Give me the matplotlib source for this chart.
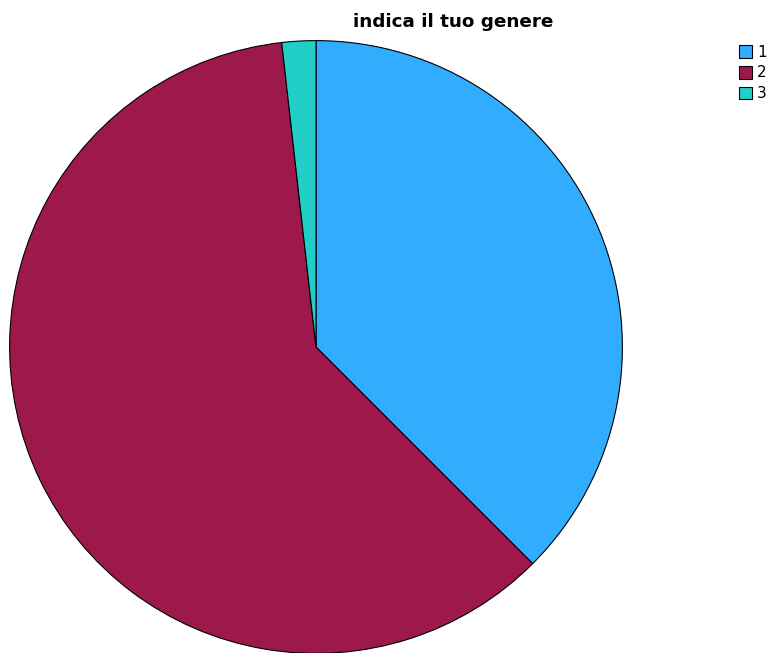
import matplotlib
matplotlib.use("Agg")
from matplotlib import pyplot as plt

# counts per category of "indica il tuo genere"
labels = ["1", "2", "3"]
counts = [21, 34, 1]
colors = ["#31acff", "#9e194b", "#22cfc8"]

fig = plt.figure(figsize=(7.73, 6.53), dpi=100)

# pie centre around (316, 347) px, radius ~307 px
ax = fig.add_axes([(316 - 307) / 773, (306 - 307) / 653, 614 / 773, 614 / 653])
wedges, _ = ax.pie(counts, colors=colors, startangle=90, counterclock=False,
                   radius=1, wedgeprops=dict(edgecolor="black", linewidth=0.8))
ax.set_xlim(-1.002, 1.002)
ax.set_ylim(-1.002, 1.002)
ax.set_aspect("equal")
ax.axis("off")

fig.text(453 / 773, 1 - 22 / 653, "indica il tuo genere", ha="center", va="center",
         fontsize=13.2, fontweight="bold")

fig.legend(wedges, labels, loc="upper left", bbox_to_anchor=(731 / 773, 1 - 37 / 653),
           frameon=False, fontsize=11, handlelength=0.9, handleheight=0.9,
           handletextpad=0.3, labelspacing=0.38, borderpad=0)

fig.savefig("out.png", dpi=100)
